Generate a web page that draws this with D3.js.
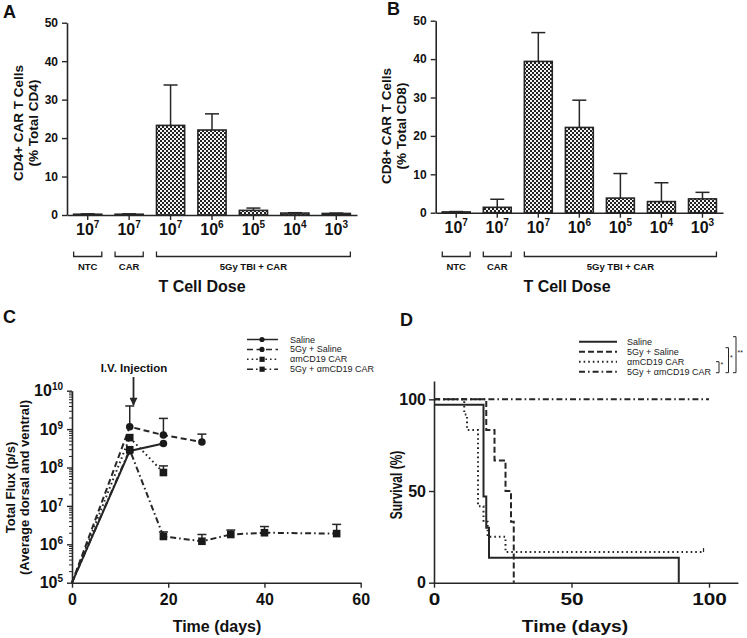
<!DOCTYPE html>
<html><head><meta charset="utf-8">
<script src="https://cdn.jsdelivr.net/npm/d3@7"></script>
<style>
body{margin:0;background:#fff;}
svg{display:block;font-family:"Liberation Sans",Arial,sans-serif;}
</style></head>
<body>
<svg id="c" width="747" height="638"></svg>
<script>
// ---------- DATA ----------
const doseExponents = ["7","7","7","6","5","4","3"];
const doseGroups = [{name:"NTC",from:0,to:0},{name:"CAR",from:1,to:1},{name:"5Gy TBI + CAR",from:2,to:6}];
const cd4Mean = [0.2,0.2,23.3,22.1,1.2,0.5,0.4];
const cd4Upper = [0.3,0.3,33.8,26.3,1.8,0.6,0.5];
const cd8Mean = [0.2,1.4,39.4,22.2,3.8,2.9,3.6];
const cd8Upper = [0.3,3.5,46.9,29.3,10.2,7.8,5.3];
const barTicks = [0,10,20,30,40,50];

const fluxSeriesNames = ["Saline","5Gy + Saline","\u03b1mCD19 CAR","5Gy + \u03b1mCD19 CAR"];
const salineDays = [0,12,19];
const salineFlux = [1e5,2.7e8,4.2e8];
const salineErr = [null,null,null];
const tbiSalineDays = [0,12,19,27];
const tbiSalineFlux = [1e5,1.15e9,7e8,4.6e8];
const tbiSalineErr = [null,4e9,1.9e9,7.4e8];
const carDays = [0,12,19];
const carFlux = [1e5,6e8,7.4e7];
const carErr = [null,null,1.1e8];
const tbiCarDays = [0,12,19,27,33,40,55];
const tbiCarFlux = [1e5,2.9e8,1.6e6,1.2e6,1.8e6,2.0e6,1.9e6];
const tbiCarErr = [null,null,2.1e6,1.8e6,2.35e6,2.9e6,3.3e6];
const fluxXTicks = [0,20,40,60];
const fluxYExps = [5,6,7,8,9,10];

const survNames = ["Saline","5Gy + Saline","\u03b1mCD19 CAR","5Gy + \u03b1mCD19 CAR"];
const survSalineT = [0,18,19,20,89];
const survSalineS = [97,47,30,13.6,0];
const survTbiSalineT = [0,19,22,26,28,29];
const survTbiSalineS = [100,83.3,66.7,50,33.3,0];
const survCarT = [0,11,12,16,18,19.5,26];
const survCarS = [100,91.7,83.3,41.7,33.3,25,16.7];
const survCarEnd = 98;
const survTbiCarT = [0];
const survTbiCarS = [100];
const survTbiCarEnd = 100;
const survXTicks = [0,50,100];
const survYTicks = [0,50,100];
const sigMarks = [{rows:[2,3],label:"*"},{rows:[1,3],label:"*"},{rows:[0,3],label:"**"}];

// ---------- SETUP ----------
const svg = d3.select("#c");
const INK = "#262626";
const defs = svg.append("defs");
const pat = defs.append("pattern").attr("id","chk").attr("width",4).attr("height",4).attr("patternUnits","userSpaceOnUse");
pat.append("rect").attr("width",4).attr("height",4).attr("fill","#f4f4f4");
pat.append("rect").attr("width",2).attr("height",2).attr("fill","#222");
pat.append("rect").attr("x",2).attr("y",2).attr("width",2).attr("height",2).attr("fill","#222");
defs.append("marker").attr("id","arrow").attr("viewBox","0 0 10 10").attr("refX",9).attr("refY",5)
  .attr("markerWidth",12).attr("markerHeight",8).attr("markerUnits","userSpaceOnUse").attr("orient","auto")
  .append("path").attr("d","M0,0L10,5L0,10Z").attr("fill",INK);

function styleAxis(g, fs){
  g.select(".domain").attr("stroke",INK).attr("stroke-width",1.6);
  g.selectAll(".tick line").attr("stroke",INK).attr("stroke-width",1.4);
  g.selectAll(".tick text").attr("fill","#111").attr("font-weight","bold").attr("font-size",fs).attr("font-family","Liberation Sans, Arial, sans-serif");
}
function panelLabel(t,x,y){
  svg.append("text").attr("x",x).attr("y",y).text(t).attr("font-size",18).attr("font-weight","bold").attr("fill","#111");
}
function rotTitle(lines, xs, cy, fs, sx){
  lines.forEach((l,i)=>{
    svg.append("text").attr("transform",`translate(${xs[i]},${cy}) scale(${sx||1},1) rotate(-90)`).attr("text-anchor","middle")
      .attr("dominant-baseline","central").attr("font-size",fs).attr("font-weight","bold").attr("fill","#111").text(l);
  });
}

// ---------- BAR PANELS ----------
function barPanel(o){
  const y = d3.scaleLinear().domain([0,50]).range([o.y0,o.y50]);
  const x = d3.scaleBand().domain(d3.range(o.mean.length)).range([o.xl,o.xr]).paddingInner(0.32).paddingOuter(0.16);
  const g = svg.append("g");
  g.selectAll("rect.bar").data(o.mean).join("rect").attr("class","bar")
    .attr("x",(d,i)=>x(i)).attr("width",x.bandwidth())
    .attr("y",d=>y(d)).attr("height",d=>y(0)-y(d))
    .attr("fill","url(#chk)").attr("stroke",INK).attr("stroke-width",1.6);
  const eb = g.selectAll("g.eb").data(o.upper).join("g").attr("class","eb");
  eb.append("line").attr("x1",(d,i)=>x(i)+x.bandwidth()/2).attr("x2",(d,i)=>x(i)+x.bandwidth()/2)
    .attr("y1",(d,i)=>y(o.mean[i])).attr("y2",d=>y(d)).attr("stroke",INK).attr("stroke-width",1.5);
  eb.append("line").attr("x1",(d,i)=>x(i)+x.bandwidth()/2-7).attr("x2",(d,i)=>x(i)+x.bandwidth()/2+7)
    .attr("y1",d=>y(d)).attr("y2",d=>y(d)).attr("stroke",INK).attr("stroke-width",1.5);
  const ya = svg.append("g").attr("transform",`translate(${o.xl},0)`)
    .call(d3.axisLeft(y).tickValues(barTicks).tickSize(5).tickSizeOuter(0).tickPadding(4));
  styleAxis(ya,12);
  const xa = svg.append("g").attr("transform",`translate(0,${o.y0})`)
    .call(d3.axisBottom(x).tickSize(5).tickSizeOuter(0).tickPadding(6));
  styleAxis(xa,16);
  xa.selectAll(".tick text").text(null).attr("dy",null).attr("y",0)
    .attr("transform","translate(0,20)").each(function(d){
      const t = d3.select(this);
      t.append("tspan").text("10");
      t.append("tspan").attr("font-size",10).attr("dy",-7).text(doseExponents[d]);
    });
  doseGroups.forEach(gr=>{
    const a = x(gr.from), b = x(gr.to)+x.bandwidth();
    svg.append("path").attr("d",`M${a},${o.brTop}V${o.brBot}H${b}V${o.brTop}`)
      .attr("fill","none").attr("stroke",INK).attr("stroke-width",1.3);
    svg.append("text").attr("x",(a+b)/2).attr("y",o.grY).attr("text-anchor","middle")
      .attr("font-size",9.5).attr("font-weight","bold").attr("fill","#111").text(gr.name);
  });
  svg.append("text").attr("x",o.titleX).attr("y",292).attr("text-anchor","middle")
    .attr("font-size",16).attr("font-weight","bold").attr("fill","#111").text("T Cell Dose");
  rotTitle(o.ytitle,o.ytx,o.yty,13.5);
}
barPanel({xl:67,xr:357,y0:215,y50:22.7,mean:cd4Mean,upper:cd4Upper,brTop:251.5,brBot:256.5,grY:270,titleX:202,
  ytitle:["CD4+ CAR T Cells","(% Total CD4)"],ytx:[18.5,33.5],yty:123});
barPanel({xl:435.7,xr:723,y0:212.7,y50:20.7,mean:cd8Mean,upper:cd8Upper,brTop:251.5,brBot:256.5,grY:270,titleX:567,
  ytitle:["CD8+ CAR T Cells","(% Total CD8)"],ytx:[386.7,401.7],yty:126});
panelLabel("A",3,18);
panelLabel("B",387,15);

// ---------- PANEL C ----------
(function(){
  const x = d3.scaleLinear().domain([0,60]).range([72,360.7]);
  const y = d3.scaleLog().domain([1e5,1e10]).range([582.7,390.7]);
  const series = [
    {name:fluxSeriesNames[0],days:salineDays,v:salineFlux,e:salineErr,dash:null,sym:"circle"},
    {name:fluxSeriesNames[1],days:tbiSalineDays,v:tbiSalineFlux,e:tbiSalineErr,dash:"6,3.5",sym:"circle"},
    {name:fluxSeriesNames[2],days:carDays,v:carFlux,e:carErr,dash:"1.6,3",sym:"square"},
    {name:fluxSeriesNames[3],days:tbiCarDays,v:tbiCarFlux,e:tbiCarErr,dash:"6,3,1.6,3",sym:"square"}
  ];
  const line = d3.line().x(d=>x(d[0])).y(d=>y(d[1]));
  series.forEach(s=>{
    const pts = s.days.map((d,i)=>[d,s.v[i],s.e[i]]);
    svg.append("path").attr("d",line(pts)).attr("fill","none").attr("stroke",INK).attr("stroke-width",2)
      .attr("stroke-dasharray",s.dash);
    pts.filter(p=>p[2]!=null).forEach(p=>{
      svg.append("line").attr("x1",x(p[0])).attr("x2",x(p[0])).attr("y1",y(p[1])).attr("y2",y(p[2])).attr("stroke",INK).attr("stroke-width",1.5);
      svg.append("line").attr("x1",x(p[0])-4.5).attr("x2",x(p[0])+4.5).attr("y1",y(p[2])).attr("y2",y(p[2])).attr("stroke",INK).attr("stroke-width",1.5);
    });
    pts.filter(p=>p[0]>0).forEach(p=>{
      if(s.sym==="circle") svg.append("circle").attr("cx",x(p[0])).attr("cy",y(p[1])).attr("r",3.8).attr("fill","#1a1a1a");
      else svg.append("rect").attr("x",x(p[0])-3.8).attr("y",y(p[1])-3.8).attr("width",7.6).attr("height",7.6).attr("fill","#1a1a1a");
    });
  });
  const minor = [];
  fluxYExps.slice(0,-1).forEach(e=>{ for(let k=2;k<=9;k++) minor.push(k*Math.pow(10,e)); });
  svg.append("g").attr("transform","translate(72,0)").call(d3.axisLeft(y).tickValues(minor).tickSize(3).tickFormat("").tickSizeOuter(0))
    .call(g=>{g.select(".domain").remove(); g.selectAll("line").attr("stroke",INK).attr("stroke-width",1);});
  const ya = svg.append("g").attr("transform","translate(72,0)")
    .call(d3.axisLeft(y).tickValues(fluxYExps.map(e=>Math.pow(10,e))).tickSize(5).tickSizeOuter(0).tickPadding(4));
  styleAxis(ya,16);
  ya.selectAll(".tick text").text(null).each(function(d){
    const t = d3.select(this);
    t.append("tspan").text("10");
    t.append("tspan").attr("font-size",10).attr("dy",-6).text(Math.round(Math.log10(d)));
  });
  const xa = svg.append("g").attr("transform","translate(0,582.7)")
    .call(d3.axisBottom(x).tickValues(fluxXTicks).tickSize(5).tickSizeOuter(0).tickPadding(6));
  styleAxis(xa,16);
  svg.append("text").attr("x",217).attr("y",632).attr("text-anchor","middle").attr("font-size",16).attr("font-weight","bold").attr("fill","#111").text("Time (days)");
  rotTitle(["Total Flux (p/s)","(Average dorsal and ventral)"],[10,24],487.5,13);
  svg.append("text").attr("x",134).attr("y",372).attr("text-anchor","middle").attr("font-size",11.5).attr("font-weight","bold").attr("fill","#111").text("I.V. Injection");
  svg.append("line").attr("x1",133.5).attr("x2",133.5).attr("y1",377).attr("y2",405).attr("stroke",INK).attr("stroke-width",1.8).attr("marker-end","url(#arrow)");
  series.forEach((s,i)=>{
    const yy = 339.5 + i*9.9;
    svg.append("line").attr("x1",247).attr("x2",278).attr("y1",yy).attr("y2",yy).attr("stroke",INK).attr("stroke-width",1.5).attr("stroke-dasharray",s.dash);
    if(s.sym==="circle") svg.append("circle").attr("cx",262).attr("cy",yy).attr("r",2.6).attr("fill","#1a1a1a");
    else svg.append("rect").attr("x",259.5).attr("y",yy-2.6).attr("width",5.2).attr("height",5.2).attr("fill","#1a1a1a");
    svg.append("text").attr("x",290).attr("y",yy).attr("dominant-baseline","central").attr("font-size",9).attr("fill","#222").text(s.name);
  });
  panelLabel("C",3,323);
})();

// ---------- PANEL D ----------
(function(){
  const x = d3.scaleLinear().domain([0,110.5]).range([434,737.9]);
  const y = d3.scaleLinear().domain([0,110]).range([582.7,381]);
  function steps(T,S,end){
    const pts=[];
    for(let i=0;i<T.length;i++){
      if(i>0) pts.push([T[i],S[i-1]]);
      pts.push([T[i],S[i]]);
    }
    if(end!=null) pts.push([end,S[S.length-1]]);
    return pts;
  }
  const curves = [
    {name:survNames[0],pts:steps(survSalineT,survSalineS,null),dash:null},
    {name:survNames[1],pts:steps(survTbiSalineT,survTbiSalineS,null),dash:"6,3"},
    {name:survNames[2],pts:steps(survCarT,survCarS,survCarEnd),dash:"1.6,3",censor:survCarEnd,cs:survCarS[survCarS.length-1]},
    {name:survNames[3],pts:steps(survTbiCarT,survTbiCarS,survTbiCarEnd),dash:"6,3,1.6,3"}
  ];
  const line = d3.line().x(d=>x(d[0])).y(d=>y(d[1]));
  curves.forEach(c=>{
    svg.append("path").attr("d",line(c.pts)).attr("fill","none").attr("stroke",INK).attr("stroke-width",2).attr("stroke-dasharray",c.dash);
    if(c.censor!=null) svg.append("line").attr("x1",x(c.censor)).attr("x2",x(c.censor)).attr("y1",y(c.cs)-4).attr("y2",y(c.cs)).attr("stroke",INK).attr("stroke-width",1.2);
  });
  const ya = svg.append("g").attr("transform","translate(434,0)")
    .call(d3.axisLeft(y).tickValues(survYTicks).tickSize(5).tickSizeOuter(0).tickPadding(3));
  styleAxis(ya,16);
  const xa = svg.append("g").attr("transform","translate(0,582.7)")
    .call(d3.axisBottom(x).tickValues(survXTicks).tickSize(5).tickSizeOuter(0).tickPadding(6));
  styleAxis(xa,16);
  xa.selectAll(".tick text").attr("transform","scale(1.3,1)");
  svg.append("text").attr("transform","translate(575,632) scale(1.2,1)").attr("text-anchor","middle").attr("font-size",16).attr("font-weight","bold").attr("fill","#111").text("Time (days)");
  rotTitle(["Survival (%)"],[396],485,12,1.3);
  const rows = curves.map((c,i)=>341.7+i*10);
  curves.forEach((c,i)=>{
    svg.append("line").attr("x1",579).attr("x2",617).attr("y1",rows[i]).attr("y2",rows[i]).attr("stroke",INK).attr("stroke-width",2).attr("stroke-dasharray",c.dash);
    svg.append("text").attr("x",627).attr("y",rows[i]).attr("dominant-baseline","central").attr("font-size",9).attr("fill","#222").text(c.name);
  });
  const bx = [719,728.5,736];
  sigMarks.forEach((m,k)=>{
    const t = rows[m.rows[0]]-4 + (k===0?4:(k===1?0:-1)), b = rows[m.rows[1]]+1;
    svg.append("path").attr("d",`M${bx[k]-3},${t}H${bx[k]}V${b}H${bx[k]-3}`).attr("fill","none").attr("stroke",INK).attr("stroke-width",1);
    svg.append("text").attr("x",bx[k]+1.5).attr("y",(t+b)/2).attr("font-size",7).attr("fill","#222").text(m.label);
  });
  panelLabel("D",400,326);
})();
</script>
</body></html>
